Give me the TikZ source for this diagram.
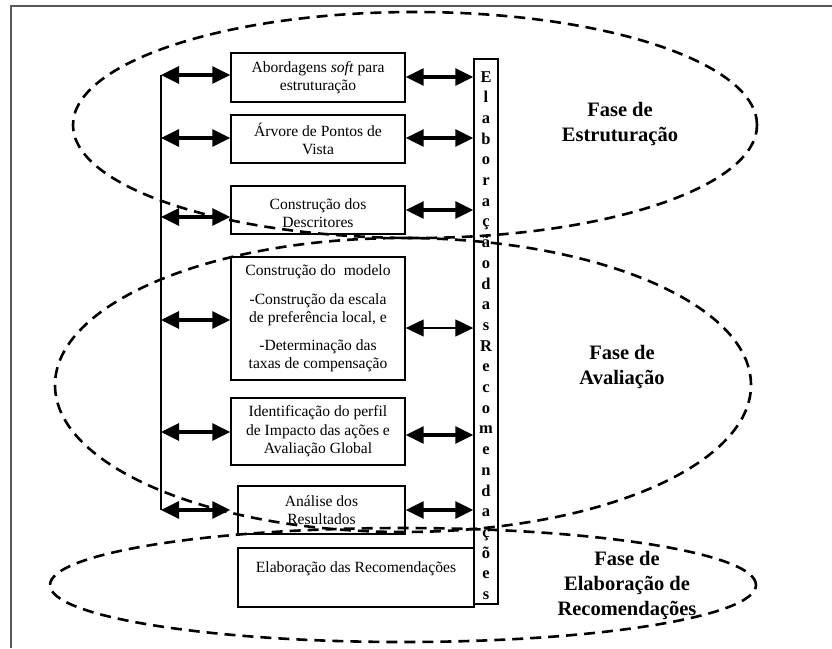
\documentclass[tikz,border=0pt]{standalone}
\usepackage{fontspec}
\setmainfont{Liberation Serif}
\usetikzlibrary{arrows.meta,calc}
\tikzset{
  frameline/.style={draw=black!65, line width=2pt},
  stepbox/.style={draw, line width=1.4pt, inner sep=0pt},
  steptext/.style={align=center, font=\fontsize{15.6}{18.5}\selectfont},
  vbox/.style={draw, line width=1.4pt, inner sep=0pt},
  vletter/.style={anchor=base, inner sep=0pt, font=\fontsize{16.5}{18}\selectfont\bfseries},
  dbl/.style={{Triangle[length=18pt,width=17pt]}-{Triangle[length=18pt,width=17pt]}, line width=3.2pt},
  dblthin/.style={{Triangle[length=18pt,width=17pt]}-{Triangle[length=18pt,width=17pt]}, line width=1.3pt},
  phase/.style={draw, dash pattern=on 11pt off 7pt, line width=2.6pt},
  phaselabel/.style={align=center, font=\fontsize{20.5}{25}\selectfont\bfseries},
  mainline/.style={line width=1.4pt}
}
\begin{document}
\begin{tikzpicture}[x=1pt,y=-1pt]
\useasboundingbox (0,0) rectangle (832,648);
\fill[white] (0,0) rectangle (832,648);
% frame
\coordinate (fbl) at (11,648);
\coordinate (ftl) at (11,6);
\coordinate (ftr) at (832,6);
\draw[frameline] (fbl) -- (ftl) -- (ftr);

% boxes
\node[stepbox, minimum width=174pt, minimum height=49pt] (b1) at (318,77.5) {};
\node[stepbox, minimum width=174pt, minimum height=48pt] (b2) at (318,139) {};
\node[stepbox, minimum width=174pt, minimum height=48pt] (b3) at (318,210) {};
\node[stepbox, minimum width=174pt, minimum height=123pt] (b4) at (318,318.5) {};
\node[stepbox, minimum width=174pt, minimum height=67pt] (b5) at (318,431.5) {};
\node[stepbox, minimum width=167pt, minimum height=48pt] (b6) at (321.5,510) {};
\node[stepbox, minimum width=236pt, minimum height=59pt] (b7) at (356,577.5) {};

% box texts
\node[steptext] (t1) at (b1.center) {Abordagens \textit{soft} para\\estruturação};
\node[steptext] (t2) at (b2.center) {Árvore de Pontos de\\Vista};
\node[steptext] (t3) at ($(b3.center)+(0,3)$) {Construção dos\\Descritores};
\node[steptext] (t4) at (b4.center)
  {Construção do~ modelo\\[10pt]-Construção da escala\\de preferência local, e\\[9pt] -Determinação das\\taxas de compensação};
\node[steptext] (t5) at (b5.center) {Identificação do perfil\\de Impacto das ações e\\Avaliação Global};
\node[steptext] (t6) at (b6.center) {Análise dos\\Resultados};
\node[steptext, anchor=base] (t7) at (356,572) {Elaboração das Recomendações};

% vertical box
\node[vbox, minimum width=24pt, minimum height=545pt] (vb) at (486,331.5) {};
\foreach \c [count=\i] in {E,l,a,b,o,r,a,ç,ã,o,d,a,s,R,e,c,o,m,e,n,d,a,ç,õ,e,s}
  \node[vletter] (v\i) at (486,{82+(\i-1)*20.7}) {\c};

% left vertical line
\coordinate (L1) at (161,75);
\coordinate (L2) at (161,138);
\coordinate (L3) at (161,217);
\coordinate (L4) at (161,320);
\coordinate (L5) at (161,432);
\coordinate (L6) at (161,510);
\draw[mainline] (L1) -- (L6);

% left arrows
\draw[dbl] (L1) -- (L1 -| b1.west);
\draw[dbl] (L2) -- (L2 -| b2.west);
\draw[dbl] (L3) -- (L3 -| b3.west);
\draw[dbl] (L4) -- (L4 -| b4.west);
\draw[dbl] (L5) -- (L5 -| b5.west);
\draw[dbl] (L6) -- (L6 -| b1.west);

% right arrows
\coordinate (R1) at ($(b1.east)+(0,-0.5)$);
\coordinate (R2) at ($(b2.east)+(0,-1)$);
\coordinate (R3) at (b3.east);
\coordinate (R4) at ($(b4.east)+(0,9.5)$);
\coordinate (R5) at ($(b5.east)+(0,3.5)$);
\coordinate (R6) at (b6.east);
\draw[dbl] (R1) -- (R1 -| vb.west);
\draw[dbl] (R2) -- (R2 -| vb.west);
\draw[dbl] (R3) -- (R3 -| vb.west);
\draw[dblthin] (R4) -- (R4 -| vb.west);
\draw[dbl] (R5) -- (R5 -| vb.west);
\draw[dbl] (R6) -- (R6 -| vb.west);

% phase labels
\node[phaselabel] (p1) at (620,123.5) {Fase de\\Estruturação};
\node[phaselabel] (p2) at (622,367) {Fase de\\Avaliação};
\node[phaselabel] (p3) at (627,585.5) {Fase de\\Elaboração de\\Recomendações};

% phase ellipses
\coordinate (e1) at (415,125);
\coordinate (e2) at (403,385);
\coordinate (e3) at (403,585);
\draw[phase] (e1) ellipse [x radius=342pt, y radius=113pt];
\draw[phase] (e2) ellipse [x radius=348pt, y radius=147pt];
\draw[phase] (e3) ellipse [x radius=353pt, y radius=57pt];
\end{tikzpicture}
\end{document}
